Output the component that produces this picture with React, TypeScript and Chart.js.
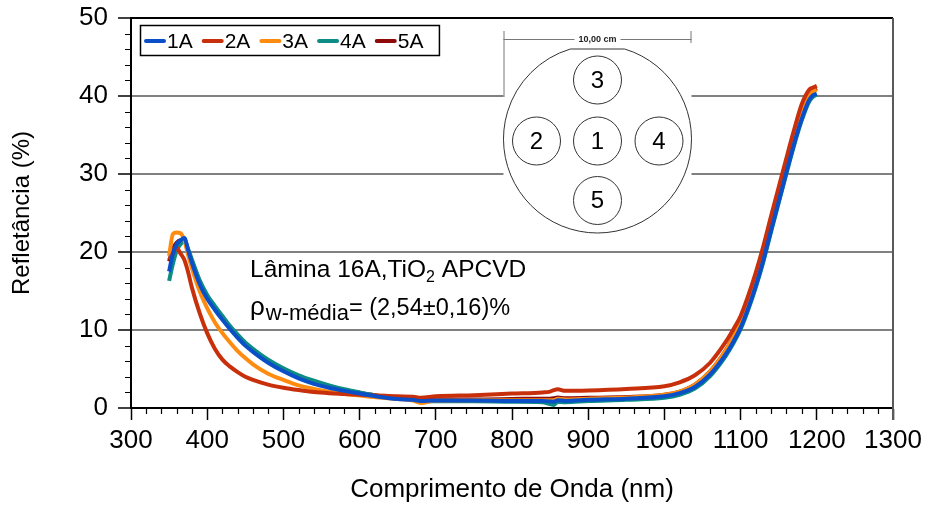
import React, { useEffect, useRef } from "react";
import { Chart, registerables } from "chart.js";

Chart.register(...registerables);

// ---------- DATA ----------
const wavelengths = [
  350, 355, 360, 365, 370, 375, 380, 390, 400, 410,
  420, 430, 440, 450, 460, 480, 500, 520, 540, 560,
  580, 600, 625, 650, 670, 680, 700, 750, 800, 840,
  850, 855, 860, 870, 900, 950, 1000, 1020, 1040, 1060,
  1080, 1090, 1100, 1110, 1120, 1130, 1140, 1150, 1160, 1170,
  1180, 1190, 1195, 1200,
];

const s1A = [
  17.5, 19.8, 21.0, 21.5, 21.8, 20.2, 18.6, 15.9, 14.0, 12.6,
  11.3, 10.1, 9.0, 8.0, 7.2, 5.8, 4.7, 3.8, 3.1, 2.6,
  2.2, 1.85, 1.45, 1.15, 1.05, 0.9, 0.95, 0.95, 0.9, 0.9,
  0.85, 0.8, 1.0, 0.9, 1.05, 1.2, 1.5, 1.9, 2.7, 4.3,
  6.8, 8.4, 10.3, 12.8, 15.7, 19.0, 22.8, 26.5, 30.2, 33.8,
  37.0, 39.5, 40.1, 40.3,
];

const s2A = [
  19.0, 19.8, 20.5, 19.8, 19.0, 17.4, 15.4, 12.2, 9.6, 7.6,
  6.2, 5.3, 4.6, 4.0, 3.6, 3.0, 2.6, 2.3, 2.05, 1.9,
  1.8, 1.7, 1.6, 1.5, 1.45, 1.3, 1.5, 1.65, 1.85, 2.0,
  2.1, 2.3, 2.4, 2.2, 2.25, 2.45, 2.8, 3.3, 4.2, 5.8,
  8.4, 10.0, 11.8, 14.4, 17.4, 20.8, 24.6, 28.3, 32.0, 35.6,
  38.9, 40.8, 41.1, 41.3,
];

const s3A = [
  19.5, 22.3, 22.5, 22.4, 21.5, 19.6, 17.9, 15.0, 12.8, 11.0,
  9.6, 8.4, 7.3, 6.4, 5.6, 4.4, 3.6, 2.9, 2.45, 2.1,
  1.8, 1.6, 1.35, 1.15, 0.95, 0.65, 0.95, 1.0, 1.0, 1.0,
  1.0, 1.0, 1.2, 1.1, 1.2, 1.35, 1.7, 2.1, 3.0, 4.7,
  7.3, 9.0, 11.0, 13.6, 16.6, 20.0, 23.8, 27.5, 31.2, 34.8,
  38.0, 40.2, 40.6, 40.8,
];

const s4A = [
  16.3, 18.5, 20.2, 21.0, 21.4, 20.4, 19.0, 16.4, 14.5, 13.1,
  11.8, 10.5, 9.4, 8.4, 7.6, 6.2, 5.1, 4.2, 3.5, 2.9,
  2.4, 2.0, 1.55, 1.2, 1.05, 0.85, 0.85, 0.85, 0.8, 0.75,
  0.5, 0.4, 0.8, 0.75, 0.9, 1.05, 1.3, 1.7, 2.5, 4.1,
  6.6, 8.2, 10.1, 12.6, 15.5, 18.8, 22.6, 26.3, 30.0, 33.6,
  36.8, 39.3, 39.9, 40.2,
];

const s5A = [
  18.8, 20.4, 21.2, 21.5, 21.5, 20.2, 18.8, 16.2, 14.3, 12.9,
  11.6, 10.3, 9.2, 8.2, 7.4, 6.0, 4.9, 4.0, 3.3, 2.75,
  2.3, 1.95, 1.55, 1.25, 1.2, 1.0, 1.1, 1.1, 1.15, 1.2,
  1.2, 1.25, 1.35, 1.25, 1.3, 1.4, 1.7, 2.1, 3.0, 4.7,
  7.3, 9.0, 11.0, 13.5, 16.5, 19.9, 23.7, 27.4, 31.1, 34.7,
  38.0, 40.2, 40.7, 41.0,
];

const seriesLabels = ["1A", "2A", "3A", "4A", "5A"];
const seriesValues = [s1A, s2A, s3A, s4A, s5A];
const seriesColors = ["#0b4fc8", "#c8300c", "#ff8c10", "#0c8c84", "#8c0a0a"];

const xMin = 300;
const xMax = 1300;
const xMajorStep = 100;
const xMinorStep = 20;
const yMin = 0;
const yMax = 50;
const yMajorStep = 10;
const yMinorStep = 2;

const xTitle = "Comprimento de Onda (nm)";
const yTitle = "Refletância (%)";
const annotationLine1 = ["Lâmina 16A,TiO", "2", " APCVD"];
const annotationLine2 = ["ρ", "w-média", "= (2,54±0,16)%"];
const waferLabels = ["1", "2", "3", "4", "5"];
const waferDimension = "10,00 cm";

const FONT = "'Liberation Sans', Arial, Helvetica, sans-serif";

// ---------- PLUGINS ----------
const framePlugin = {
  id: "frame",
  beforeDatasetsDraw(chart: any) {
    const { ctx } = chart;
    ctx.save();
    // wafer inset (white panel covering grid)
    const cx = 597.5;
    const cy = 139;
    const R = 94;
    ctx.fillStyle = "#fff";
    ctx.fillRect(cx - R, 29, 2 * R, 212);

    // dimension line
    ctx.strokeStyle = "#777";
    ctx.lineWidth = 1;
    ctx.font = `bold 9px ${FONT}`;
    const tw = ctx.measureText(waferDimension).width;
    ctx.beginPath();
    ctx.moveTo(cx - R, 39.5);
    ctx.lineTo(cx - tw / 2 - 4, 39.5);
    ctx.moveTo(cx + tw / 2 + 4, 39.5);
    ctx.lineTo(cx + R, 39.5);
    ctx.moveTo(cx - R + 0.5, 31);
    ctx.lineTo(cx - R + 0.5, 97);
    ctx.moveTo(cx + R - 0.5, 31);
    ctx.lineTo(cx + R - 0.5, 43);
    ctx.stroke();
    ctx.fillStyle = "#222";
    ctx.textAlign = "center";
    ctx.textBaseline = "middle";
    ctx.fillText(waferDimension, cx, 39.5);

    // wafer with flat
    const flatY = cy - 90;
    const half = Math.sqrt(R * R - 90 * 90);
    const a1 = Math.atan2(flatY - cy, half);
    const a0 = Math.atan2(flatY - cy, -half);
    ctx.strokeStyle = "#333";
    ctx.lineWidth = 1;
    ctx.beginPath();
    ctx.arc(cx, cy, R, a1, a0 + 2 * Math.PI, false);
    ctx.closePath();
    ctx.fillStyle = "#fff";
    ctx.fill();
    ctx.stroke();

    const small = [
      [597.5, 141],
      [536.5, 141],
      [597.5, 80],
      [659, 141],
      [597.5, 200.5],
    ];
    ctx.font = `24px ${FONT}`;
    small.forEach(([x, y], i) => {
      ctx.beginPath();
      ctx.arc(x, y, 24, 0, Math.PI * 2);
      ctx.strokeStyle = "#333";
      ctx.stroke();
      ctx.fillStyle = "#000";
      ctx.fillText(waferLabels[i], x, y + 1);
    });

    // annotation text
    ctx.textAlign = "left";
    ctx.textBaseline = "alphabetic";
    ctx.fillStyle = "#000";
    let x = 250;
    const base1 = 277;
    ctx.font = `24.5px ${FONT}`;
    ctx.fillText(annotationLine1[0], x, base1);
    x += ctx.measureText(annotationLine1[0]).width;
    ctx.font = `16px ${FONT}`;
    ctx.fillText(annotationLine1[1], x, base1 + 5);
    x += ctx.measureText(annotationLine1[1]).width;
    ctx.font = `24.5px ${FONT}`;
    ctx.fillText(annotationLine1[2], x, base1);

    x = 250;
    const base2 = 317;
    ctx.font = `26px ${FONT}`;
    ctx.fillText(annotationLine2[0], x, base2 - 2);
    x += ctx.measureText(annotationLine2[0]).width + 1;
    ctx.font = `22px ${FONT}`;
    ctx.fillText(annotationLine2[1], x, base2 + 3);
    x += ctx.measureText(annotationLine2[1]).width;
    ctx.font = `23.5px ${FONT}`;
    ctx.fillText(annotationLine2[2], x, base2 - 2);
    ctx.restore();
  },
  afterDraw(chart: any) {
    const { ctx, chartArea: a, scales } = chart;
    const xs = scales.x;
    const ys = scales.y;
    ctx.save();
    // top & right frame
    ctx.strokeStyle = "#000";
    ctx.lineWidth = 2;
    ctx.beginPath();
    ctx.moveTo(a.left, a.top);
    ctx.lineTo(a.right, a.top);
    ctx.stroke();
    ctx.strokeStyle = "#5a5a5a";
    ctx.beginPath();
    ctx.moveTo(a.right, a.top);
    ctx.lineTo(a.right, a.bottom + 12);
    ctx.stroke();

    // minor ticks
    ctx.strokeStyle = "#000";
    ctx.lineWidth = 1.2;
    ctx.beginPath();
    for (let v = xMin; v <= xMax; v += xMinorStep) {
      if (v % xMajorStep === 0) continue;
      const px = Math.round(xs.getPixelForValue(v)) + 0.5;
      ctx.moveTo(px, a.bottom);
      ctx.lineTo(px, a.bottom + 6);
    }
    for (let v = yMin; v <= yMax; v += yMinorStep) {
      if (v % yMajorStep === 0) continue;
      const py = Math.round(ys.getPixelForValue(v)) + 0.5;
      ctx.moveTo(a.left - 6, py);
      ctx.lineTo(a.left, py);
    }
    ctx.stroke();

    // legend
    ctx.font = `21px ${FONT}`;
    ctx.textBaseline = "middle";
    ctx.textAlign = "left";
    const ly = 41;
    let lx = 145;
    const items: Array<[number, number]> = [];
    chart.data.datasets.forEach((ds: any) => {
      const w = ctx.measureText(ds.label).width;
      items.push([lx, w]);
      lx += 22 + w + 10;
    });
    const last = items[items.length - 1];
    const boxRight = last[0] + 22 + last[1] + 16;
    ctx.fillStyle = "#fff";
    ctx.fillRect(140.5, 25.5, boxRight - 140.5, 30);
    ctx.strokeStyle = "#000";
    ctx.lineWidth = 1.5;
    ctx.strokeRect(140.5, 25.5, boxRight - 140.5, 30);
    chart.data.datasets.forEach((ds: any, i: number) => {
      const [sx] = items[i];
      ctx.strokeStyle = ds.borderColor;
      ctx.lineWidth = 4;
      ctx.lineCap = "round";
      ctx.beginPath();
      ctx.moveTo(sx + 1, ly);
      ctx.lineTo(sx + 19, ly);
      ctx.stroke();
      ctx.fillStyle = "#000";
      ctx.fillText(ds.label, sx + 22, ly + 1);
    });
    ctx.restore();
  },
};

export default function App() {
  const ref = useRef<HTMLCanvasElement | null>(null);

  useEffect(() => {
    if (!ref.current) return;
    const datasets = seriesLabels.map((label, i) => ({
      label,
      data: wavelengths.map((w, j) => ({ x: w, y: seriesValues[i][j] })),
      borderColor: seriesColors[i],
      backgroundColor: seriesColors[i],
      borderWidth: 4,
      pointRadius: 0,
      fill: false,
      cubicInterpolationMode: "monotone" as const,
    }));

    const chart = new Chart(ref.current, {
      type: "line",
      data: { datasets },
      options: {
        animation: false,
        responsive: false,
        maintainAspectRatio: false,
        layout: { padding: { left: 0, right: 36, top: 18, bottom: 0 } },
        plugins: { legend: { display: false }, tooltip: { enabled: false } },
        scales: {
          x: {
            type: "linear",
            min: xMin,
            max: xMax,
            afterFit: (s: any) => {
              s.height = 100;
              s.paddingLeft = 0;
              s.paddingRight = 0;
            },
            ticks: {
              stepSize: xMajorStep,
              autoSkip: false,
              maxRotation: 0,
              color: "#000",
              padding: 5,
              font: { family: FONT, size: 26 },
              callback: (v: any) => String(v),
            },
            grid: {
              drawOnChartArea: false,
              drawTicks: true,
              tickLength: 12,
              tickColor: "#000",
              tickWidth: 1.5,
            },
            border: { color: "#000", width: 2 },
            title: {
              display: true,
              text: xTitle,
              color: "#000",
              font: { family: FONT, size: 26 },
              padding: { top: 0, bottom: 3 },
            },
          },
          y: {
            min: yMin,
            max: yMax,
            afterFit: (s: any) => {
              s.width = 131;
              s.paddingTop = 0;
              s.paddingBottom = 0;
            },
            ticks: {
              stepSize: yMajorStep,
              color: "#000",
              padding: 10,
              font: { family: FONT, size: 26 },
              callback: (v: any) => String(v),
            },
            grid: {
              color: (c: any) =>
                c.tick && (c.tick.value === yMin || c.tick.value === yMax)
                  ? "rgba(0,0,0,0)"
                  : "#808080",
              lineWidth: 2,
              tickLength: 13,
              tickColor: "#000",
              tickWidth: 1.5,
            },
            border: { color: "#000", width: 2 },
            title: {
              display: true,
              text: yTitle,
              color: "#000",
              font: { family: FONT, size: 24 },
              padding: { top: 8, bottom: 0 },
            },
          },
        },
      },
      plugins: [framePlugin],
    });
    return () => chart.destroy();
  }, []);

  return (
    <div style={{ position: "absolute", left: 0, top: 0, width: 929, height: 508, background: "#fff" }}>
      <canvas ref={ref} width={929} height={508} style={{ display: "block", width: 929, height: 508 }} />
    </div>
  );
}
